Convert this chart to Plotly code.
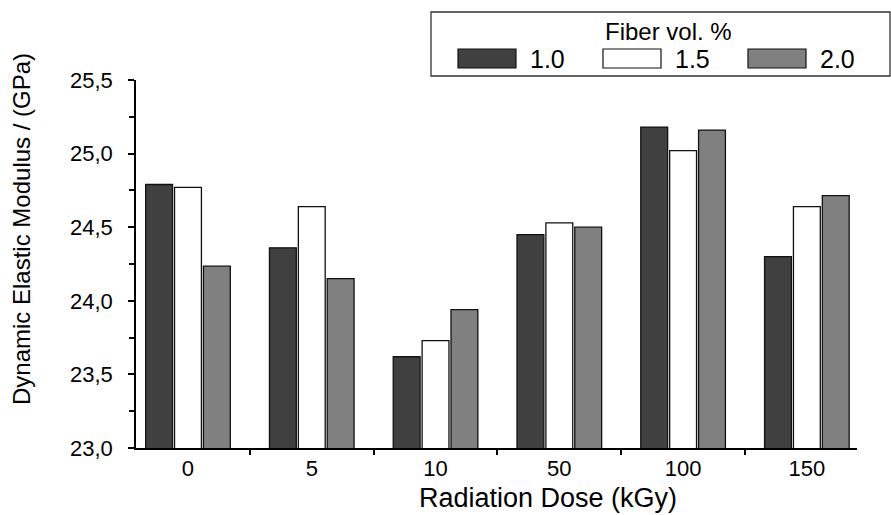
import plotly.graph_objects as go

# ---- data ----
doses = ["0", "5", "10", "50", "100", "150"]
series_names = ["1.0", "1.5", "2.0"]
vals_10 = [24.79, 24.36, 23.62, 24.45, 25.18, 24.30]
vals_15 = [24.77, 24.64, 23.73, 24.53, 25.02, 24.64]
vals_20 = [24.235, 24.15, 23.94, 24.50, 25.16, 24.715]
y_ticks = [23.0, 23.5, 24.0, 24.5, 25.0, 25.5]

series_vals = [vals_10, vals_15, vals_20]
colors = ["#404040", "#ffffff", "#808080"]

W, H = 891, 515
L, R, T, B = 136, 34, 80, 67
FONT = "Liberation Sans, Arial, sans-serif"

def px(x):
    return (x - L) / (W - L - R)

def py(y):
    return (H - B - y) / (H - T - B)

fig = go.Figure()
xs = list(range(len(doses)))
for name, vals, c in zip(series_names, series_vals, colors):
    fig.add_trace(go.Bar(
        x=xs, y=vals, name=name,
        marker=dict(color=c, line=dict(color="#111111", width=1.3)),
        showlegend=False,
    ))

shapes = []
annotations = []

# custom legend
shapes.append(dict(type="rect", xref="paper", yref="paper",
                   x0=px(431), x1=px(890), y0=py(76), y1=py(12),
                   line=dict(color="#333333", width=1.3), fillcolor="white"))
annotations.append(dict(text="Fiber vol. %", xref="paper", yref="paper",
                        x=px(668), y=py(31), xanchor="center", yanchor="middle",
                        showarrow=False, font=dict(family=FONT, size=24, color="black")))
sw_x0 = [458, 603, 748]
for i, (name, c) in enumerate(zip(series_names, colors)):
    shapes.append(dict(type="rect", xref="paper", yref="paper",
                       x0=px(sw_x0[i]), x1=px(sw_x0[i] + 58), y0=py(68), y1=py(49),
                       line=dict(color="#111111", width=1.2), fillcolor=c))
    annotations.append(dict(text=name, xref="paper", yref="paper",
                            x=px(sw_x0[i] + 70), y=py(59), xanchor="left", yanchor="middle",
                            showarrow=False, font=dict(family=FONT, size=25, color="black")))

# axis titles
annotations.append(dict(text="Radiation Dose (kGy)", xref="paper", yref="paper",
                        x=px(548), y=py(498), xanchor="center", yanchor="middle",
                        showarrow=False, font=dict(family=FONT, size=27, color="black")))
annotations.append(dict(text="Dynamic Elastic Modulus / (GPa)", xref="paper", yref="paper",
                        x=px(21), y=py(229), xanchor="center", yanchor="middle", textangle=-90,
                        showarrow=False, font=dict(family=FONT, size=24, color="black")))

fig.update_layout(
    width=W, height=H,
    margin=dict(l=L, r=R, t=T, b=B),
    plot_bgcolor="white", paper_bgcolor="white",
    separators=", ",
    barmode="group", bargap=0.30, bargroupgap=0.07,
    font=dict(family=FONT, size=20, color="black"),
    shapes=shapes, annotations=annotations,
    xaxis=dict(
        range=[-0.42, 5.405], tickmode="array", tickvals=xs, ticktext=doses,
        ticks="", showline=True, linecolor="black", linewidth=1.5, showgrid=False,
        zeroline=False, tickfont=dict(family=FONT, size=22, color="black"),
        ticklabelstandoff=0,
        minor=dict(tickmode="array", tickvals=[0.5, 1.5, 2.5, 3.5, 4.5],
                   ticks="outside", ticklen=5, tickwidth=1.5, tickcolor="black"),
    ),
    yaxis=dict(
        range=[23.0, 25.5], tickmode="array", tickvals=y_ticks,
        ticktext=[f"{v:.1f}".replace(".", ",") for v in y_ticks],
        ticks="outside", ticklen=6, tickwidth=1.5, tickcolor="black",
        showline=True, linecolor="black", linewidth=1.5, showgrid=False, zeroline=False,
        tickfont=dict(family=FONT, size=22, color="black"), ticklabelstandoff=11,
        minor=dict(tickmode="array", tickvals=[23.25, 23.75, 24.25, 24.75, 25.25],
                   ticks="outside", ticklen=5, tickwidth=1.5, tickcolor="black"),
    ),
)

fig.write_html(
    "out.html",
    config={"displayModeBar": False},
    post_script="document.body.style.margin='0';document.body.style.padding='0';",
)
